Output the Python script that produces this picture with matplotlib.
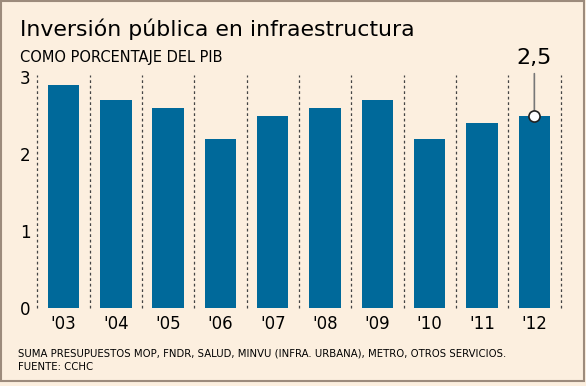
import matplotlib.pyplot as plt
import matplotlib.patches as mpatches

years = ["'03", "'04", "'05", "'06", "'07", "'08", "'09", "'10", "'11", "'12"]
inversion = [2.9, 2.7, 2.6, 2.2, 2.5, 2.6, 2.7, 2.2, 2.4, 2.5]
y_ticks = [0, 1, 2, 3]
highlight_label = '2,5'

BG = '#fcefdf'
BAR = '#00699a'

plt.rcParams['font.family'] = ['DejaVu Sans']

fig = plt.figure(figsize=(5.86, 3.86), dpi=100)
fig.patch.set_facecolor(BG)
ax = fig.add_axes([0.0637, 0.2021, 0.8928, 0.6036])
ax.set_facecolor(BG)

x = list(range(len(years)))
ax.bar(x, inversion, width=0.6, color=BAR, zorder=2)

# dashed separators between years
for b in range(len(years) + 1):
    ax.axvline(b - 0.5, color='#444444', linestyle=(0, (2.2, 2.2)), linewidth=0.9,
               zorder=1, clip_on=False)

ax.set_xlim(-0.5, len(years) - 0.5)
ax.set_ylim(0, 3.03)
ax.set_xticks(x)
ax.set_xticklabels(years, fontsize=12)
ax.set_yticks(y_ticks)
ax.set_yticklabels([str(t) for t in y_ticks], fontsize=12)
ax.tick_params(length=0, pad=5)
for s in ax.spines.values():
    s.set_visible(False)

# highlight last value
last = len(years) - 1
ax.plot(last, inversion[last], 'o', ms=8, mfc='white', mec='#222222', mew=1.2, zorder=4)
ax.annotate(highlight_label, xy=(last, inversion[last]), xytext=(last, 3.12),
            ha='center', va='bottom', fontsize=16, annotation_clip=False,
            arrowprops=dict(arrowstyle='-', color='#777777', lw=1.2, shrinkA=2, shrinkB=4),
            zorder=3)

fig.text(0.034, 0.924, 'Inversión pública en infraestructura', fontsize=15.8, va='center', ha='left')
fig.text(0.034, 0.850, 'COMO PORCENTAJE DEL PIB', fontsize=10.5, va='center', ha='left')
fig.text(0.031, 0.083, 'SUMA PRESUPUESTOS MOP, FNDR, SALUD, MINVU (INFRA. URBANA), METRO, OTROS SERVICIOS.',
         fontsize=7.3, va='center', ha='left')
fig.text(0.031, 0.049, 'FUENTE: CCHC', fontsize=7.3, va='center', ha='left')

fig.patches.append(mpatches.Rectangle((1 / 586, 5 / 386), 583 / 586, 380 / 386, transform=fig.transFigure,
                                      fill=False, edgecolor='#9c8b7c', linewidth=1.5))

fig.savefig('out.png', dpi=100, facecolor=BG)
